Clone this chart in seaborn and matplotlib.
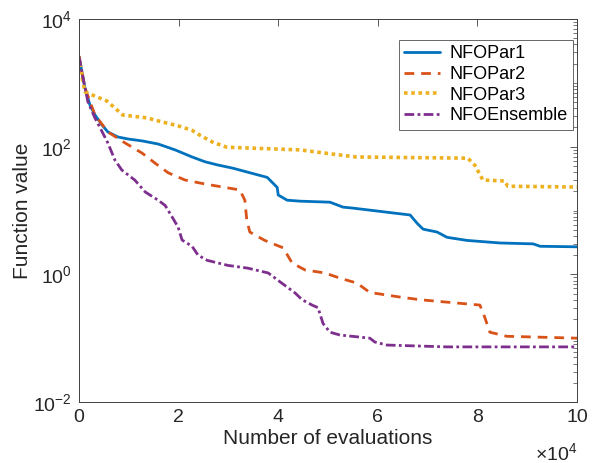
import numpy as np
import pandas as pd
import matplotlib
matplotlib.use("Agg")
import matplotlib.pyplot as plt
import seaborn as sns
from matplotlib.ticker import LogLocator, NullFormatter, FuncFormatter

# ---- data (x in units of 1e4 evaluations) ----
par1_x = [0, 0.12, 0.22, 0.32, 0.46, 0.58, 0.78, 0.98, 1.27, 1.59, 1.93, 2.27, 2.53, 2.77, 3.09, 3.78,
          3.98, 4.00, 4.18, 4.44, 5.04, 5.30, 5.50, 6.65, 6.79, 6.91, 7.19, 7.39, 7.79, 8.45, 9.12, 9.26, 10]
par1_y = [2600, 830, 448, 315, 220, 170, 142, 132, 123, 110, 89, 69, 58, 52, 46, 33,
          23, 17.5, 14.5, 14, 13.5, 11.3, 10.9, 8.5, 6.3, 5.1, 4.6, 3.8, 3.4, 3.1, 3.0, 2.75, 2.7]

par2_x = [0, 0.12, 0.32, 0.58, 0.92, 1.27, 1.53, 1.79, 2.13, 2.53, 3.03, 3.23, 3.33, 3.37, 3.43, 3.73,
          4.10, 4.28, 4.54, 4.94, 5.24, 5.58, 5.84, 6.45, 6.85, 7.59, 8.05, 8.15, 8.25, 8.59, 10]
par2_y = [2600, 830, 315, 170, 115, 79, 55, 39, 30, 26, 22.3, 21, 14.5, 7.0, 4.6, 3.4,
          2.6, 1.5, 1.17, 1.05, 0.87, 0.73, 0.52, 0.44, 0.40, 0.355, 0.33, 0.21, 0.124, 0.107, 0.1]

par3_x = [0, 0.06, 0.12, 0.32, 0.56, 0.88, 1.37, 1.66, 1.99, 2.27, 2.43, 2.69, 2.97, 4.44, 4.90,
          5.56, 7.81, 7.95, 8.11, 8.55, 8.61, 10]
par3_y = [2600, 1250, 718, 620, 520, 313, 282, 245, 212, 180, 151, 117, 98, 89, 80,
          69, 66, 51, 30, 29, 24, 23.3]

ens_x = [0, 0.08, 0.18, 0.32, 0.46, 0.58, 0.72, 0.86, 1.12, 1.33, 1.59, 1.73, 1.87, 1.99, 2.07, 2.27,
         2.39, 2.57, 2.99, 3.39, 3.80, 4.08, 4.34, 4.48, 4.68, 4.80, 4.90, 5.04, 5.24, 5.84, 5.94,
         6.18, 7.39, 10]
ens_y = [2600, 1200, 500, 282, 174, 114, 62, 43, 30, 19.5, 14.5, 12, 7.9, 5.5, 3.45, 2.75,
         2.0, 1.66, 1.38, 1.25, 1.05, 0.72, 0.51, 0.40, 0.33, 0.30, 0.17, 0.124, 0.112, 0.10, 0.087,
         0.078, 0.073, 0.073]

names = ["NFOPar1", "NFOPar2", "NFOPar3", "NFOEnsemble"]
series = [(par1_x, par1_y), (par2_x, par2_y), (par3_x, par3_y), (ens_x, ens_y)]

frames = []
for n, (xs, ys) in zip(names, series):
    frames.append(pd.DataFrame({"evals": np.array(xs) * 1e4, "value": ys, "method": n}))
df = pd.concat(frames, ignore_index=True)

# ---- style ----
sns.set_style("white")
plt.rcParams["font.family"] = ["Liberation Sans", "DejaVu Sans"]
plt.rcParams["mathtext.fontset"] = "custom"
plt.rcParams["mathtext.rm"] = "Liberation Sans"
plt.rcParams["mathtext.it"] = "Liberation Sans"

colors = {"NFOPar1": "#0072BD", "NFOPar2": "#D95319", "NFOPar3": "#EDB120", "NFOEnsemble": "#7E2F8E"}
styles = {"NFOPar1": "-", "NFOPar2": (0, (3.5, 2.5)), "NFOPar3": (0, (1, 1)), "NFOEnsemble": (0, (3.5, 1.2, 1, 1.2))}
widths = {"NFOPar1": 2.0, "NFOPar2": 2.0, "NFOPar3": 2.6, "NFOEnsemble": 2.0}

fig = plt.figure(figsize=(6.0, 4.63), dpi=100)
ax = fig.add_axes([79 / 600, 1 - 402 / 463, 498 / 600, 383 / 463])

for n in names:
    sub = df[df["method"] == n]
    sns.lineplot(data=sub, x="evals", y="value", ax=ax, color=colors[n], linestyle=styles[n],
                 linewidth=widths[n], label=n, estimator=None, sort=False)

ax.set_yscale("log")
ax.set_xlim(0, 1e5)
ax.set_ylim(1e-2, 1e4)
ax.set_xticks(np.arange(0, 100001, 20000))
ax.xaxis.set_major_formatter(FuncFormatter(lambda v, p: f"{v / 1e4:g}"))
ax.set_yticks([1e-2, 1e0, 1e2, 1e4])
ax.yaxis.set_minor_locator(LogLocator(base=10, subs=np.arange(1, 10), numticks=50))
ax.yaxis.set_minor_formatter(NullFormatter())

textc = "#262626"
ax.tick_params(axis="both", which="both", direction="in", top=True, right=True,
               colors="#404040", labelcolor=textc, labelsize=14)
ax.tick_params(axis="both", which="major", length=5, width=0.6, pad=5)
ax.tick_params(axis="y", which="minor", length=3, width=0.5)
for s in ax.spines.values():
    s.set_color("#404040")
    s.set_linewidth(0.7)

ax.set_xlabel("Number of evaluations", fontsize=15, color=textc, labelpad=2)
ax.set_ylabel("Function value", fontsize=15, color=textc, labelpad=1)
ax.text(1.0, -0.105, r"$\times10^{4}$", transform=ax.transAxes, ha="right", va="top",
        fontsize=14, color=textc)

leg = ax.legend(loc="upper right", bbox_to_anchor=(0.992, 0.945), borderaxespad=0,
                fontsize=13, frameon=True, fancybox=False, edgecolor="#404040",
                handlelength=2.0, handletextpad=0.5, labelspacing=0.2, borderpad=0.3)
leg.get_frame().set_linewidth(0.7)
for t in leg.get_texts():
    t.set_color("black")

fig.savefig("out.png", dpi=100, facecolor="white")
